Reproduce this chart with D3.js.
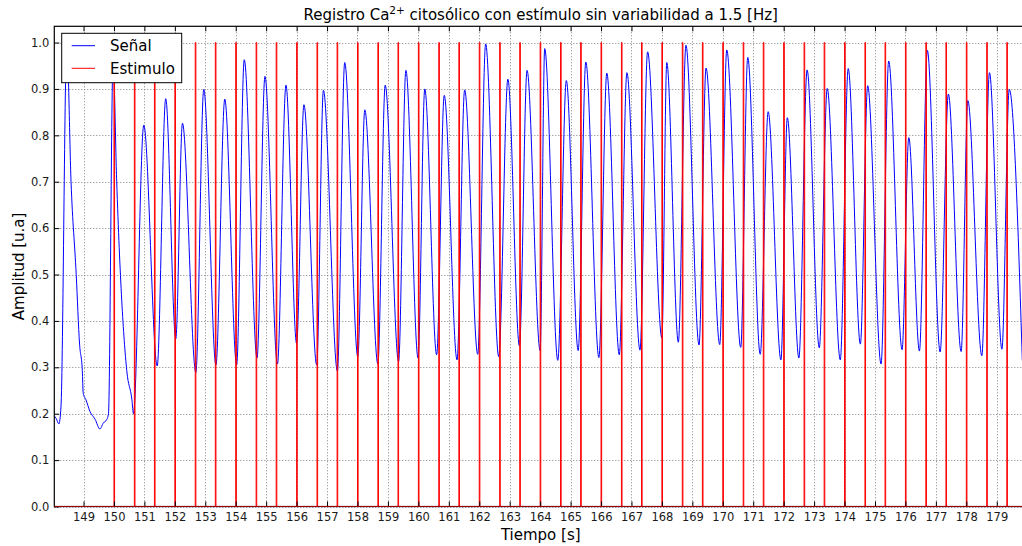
<!DOCTYPE html>
<html>
<head>
<meta charset="utf-8">
<script src="https://cdn.jsdelivr.net/npm/d3@7"></script>
<style>
  html, body { margin: 0; padding: 0; background: #ffffff; }
  svg { display: block; font-family: "DejaVu Sans", sans-serif; }
</style>
</head>
<body>
<svg id="chart" width="1022" height="546"></svg>
<script>
// Cytosolic Ca2+ trace (time in s, amplitude in a.u.)
const signalTime = [
  148.04, 148.10, 148.19, 148.26, 148.45, 148.59, 148.76, 148.87, 148.96, 148.99,
  149.08, 149.21, 149.38, 149.54, 149.65, 149.76, 149.82, 149.97, 150.09, 150.42,
  150.59, 150.64,
  150.98, 151.42, 151.70, 152.03, 152.25, 152.69, 152.95, 153.35, 153.64, 154.03,
  154.28, 154.70, 154.96, 155.37, 155.65, 156.00, 156.24, 156.66, 156.88, 157.34,
  157.58, 158.01, 158.24, 158.67, 158.91, 159.35, 159.59, 159.99, 160.21, 160.60,
  160.85, 161.27, 161.52, 161.95, 162.21, 162.64, 162.94, 163.32, 163.57, 164.00,
  164.15, 164.58, 164.86, 165.25, 165.50, 165.93, 166.19, 166.60, 166.85, 167.28,
  167.53, 168.00, 168.16, 168.54, 168.79, 169.22, 169.45, 169.90, 170.13, 170.59,
  170.82, 171.23, 171.49, 171.91, 172.12, 172.50, 172.77, 173.17, 173.43, 173.86,
  174.12, 174.52, 174.76, 175.20, 175.45, 175.89, 176.11, 176.46, 176.72, 177.14,
  177.41, 177.83, 178.05, 178.51, 178.76, 179.17, 179.41, 179.84
];
const signalValue = [
  0.195, 0.190, 0.178, 0.215, 1.000, 0.700, 0.500, 0.350, 0.293, 0.244,
  0.230, 0.205, 0.188, 0.167, 0.180, 0.187, 0.200, 0.960, 0.700, 0.293,
  0.230, 0.200,
  0.822, 0.303, 0.879, 0.361, 0.826, 0.289, 0.899, 0.305, 0.878, 0.305,
  0.963, 0.320, 0.927, 0.307, 0.908, 0.351, 0.866, 0.305, 0.897, 0.292,
  0.957, 0.323, 0.855, 0.307, 0.908, 0.312, 0.940, 0.320, 0.900, 0.327,
  0.886, 0.316, 0.898, 0.328, 0.997, 0.323, 0.921, 0.346, 0.940, 0.336,
  0.987, 0.315, 0.918, 0.336, 0.958, 0.321, 0.934, 0.327, 0.935, 0.337,
  0.980, 0.363, 0.957, 0.354, 0.994, 0.348, 0.945, 0.349, 0.984, 0.343,
  0.968, 0.328, 0.851, 0.316, 0.838, 0.320, 0.941, 0.342, 0.901, 0.316,
  0.944, 0.350, 0.907, 0.307, 0.960, 0.338, 0.795, 0.335, 0.983, 0.333,
  0.889, 0.334, 0.875, 0.325, 0.935, 0.339, 0.899, 0.315
];

// Stimulus pulse times (1.5 Hz train), pulse amplitude 1
const stimTimes = [
  150.00, 150.67, 151.33, 152.00, 152.67, 153.33, 154.00, 154.67, 155.33,
  156.00, 156.67, 157.33, 158.00, 158.67, 159.33, 160.00, 160.67, 161.33,
  162.00, 162.67, 163.33, 164.00, 164.67, 165.33, 166.00, 166.67, 167.33,
  168.00, 168.67, 169.33, 170.00, 170.67, 171.33, 172.00, 172.67, 173.33,
  174.00, 174.67, 175.33, 176.00, 176.67, 177.33, 178.00, 178.67, 179.33
];
const stimAmplitude = 1.0;
const stimWidth = 0.02;

const xTicks = d3.range(149, 180);
const yTicks = [0.0, 0.1, 0.2, 0.3, 0.4, 0.5, 0.6, 0.7, 0.8, 0.9, 1.0];

const titleMain = "Registro Ca";
const titleSup = "2+";
const titleRest = "  citosólico con estímulo sin variabilidad a 1.5 [Hz]";
const xLabel = "Tiempo [s]";
const yLabel = "Amplitud [u.a]";
const legendLabels = ["Señal", "Estimulo"];
const colors = { signal: "#0000ff", stim: "#ff0000" };

const svg = d3.select("#chart");
const pL = 54.3, pR = 1027.2, pT = 26.3, pB = 506.5;

const x = d3.scaleLinear().domain([148.04, 180.0]).range([pL, pR]);
const y = d3.scaleLinear().domain([0, 1.035]).range([pB, pT]);

svg.append("defs").append("clipPath").attr("id", "plotClip")
  .append("rect").attr("x", pL).attr("y", pT)
  .attr("width", pR - pL).attr("height", pB - pT);

// dotted grid
const grid = svg.append("g").attr("stroke", "#808080").attr("stroke-width", 1)
  .attr("stroke-dasharray", "1,2").attr("fill", "none");
grid.selectAll("line.gx").data(xTicks).join("line").attr("class", "gx")
  .attr("x1", d => Math.round(x(d)) + 0.5).attr("x2", d => Math.round(x(d)) + 0.5)
  .attr("y1", pT).attr("y2", pB);
grid.selectAll("line.gy").data(yTicks).join("line").attr("class", "gy")
  .attr("x1", pL).attr("x2", pR)
  .attr("y1", d => Math.round(y(d)) + 0.5).attr("y2", d => Math.round(y(d)) + 0.5);

const plot = svg.append("g").attr("clip-path", "url(#plotClip)");

// signal trace
const signalPts = signalTime.map((t, i) => [t, signalValue[i]]);
const line = d3.line().x(d => x(d[0])).y(d => y(d[1])).curve(d3.curveMonotoneX);
plot.append("path").datum(signalPts)
  .attr("d", line).attr("fill", "none")
  .attr("stroke", colors.signal).attr("stroke-width", 1)
  .attr("stroke-linejoin", "round");

// stimulus train: baseline at 0 with a narrow pulse at every stimulus time
const stimPts = [[148.04, 0]];
stimTimes.forEach(t => {
  stimPts.push([t, 0], [t, stimAmplitude], [t + stimWidth, stimAmplitude], [t + stimWidth, 0]);
});
stimPts.push([180.0, 0]);
plot.append("path").datum(stimPts)
  .attr("d", d3.line().x(d => x(d[0])).y(d => y(d[1])))
  .attr("fill", "none").attr("stroke", colors.stim).attr("stroke-width", 1);

// axes with inward ticks
const fontTick = 11.5;
const xAxis = svg.append("g").attr("transform", `translate(0,${pB})`)
  .call(d3.axisBottom(x).tickValues(xTicks).tickSize(-5).tickPadding(6).tickFormat(d3.format("d")));
const xAxisTop = svg.append("g").attr("transform", `translate(0,${pT})`)
  .call(d3.axisTop(x).tickValues(xTicks).tickSize(-5).tickFormat(""));
const yAxis = svg.append("g").attr("transform", `translate(${pL},0)`)
  .call(d3.axisLeft(y).tickValues(yTicks).tickSize(-5).tickPadding(5).tickFormat(d3.format(".1f")));
[xAxis, xAxisTop, yAxis].forEach(g => {
  g.select(".domain").remove();
  g.selectAll(".tick line").attr("stroke", "#000").attr("stroke-width", 1);
  g.selectAll(".tick text").attr("font-size", fontTick)
    .attr("font-family", "DejaVu Sans, sans-serif").attr("fill", "#1a1a1a");
});

// frame
svg.append("rect").attr("x", pL).attr("y", pT)
  .attr("width", pR - pL).attr("height", pB - pT)
  .attr("fill", "none").attr("stroke", "#000").attr("stroke-width", 1.2);

// stimulus baseline drawn over the bottom spine
svg.append("line").attr("x1", pL).attr("x2", pR)
  .attr("y1", y(0)).attr("y2", y(0))
  .attr("stroke", colors.stim).attr("stroke-width", 1).attr("opacity", 0.6);

// title
const title = svg.append("text").attr("x", (pL + pR) / 2).attr("y", 20)
  .attr("text-anchor", "middle").attr("font-size", 15).attr("fill", "#000");
title.append("tspan").text(titleMain);
title.append("tspan").attr("font-size", 10.5).attr("dy", -6).text(titleSup);
title.append("tspan").attr("dy", 6).text(titleRest);

// axis labels
svg.append("text").attr("x", (pL + pR) / 2).attr("y", 540)
  .attr("text-anchor", "middle").attr("font-size", 15).attr("fill", "#000").text(xLabel);
svg.append("text").attr("transform", `translate(24,${(pT + pB) / 2}) rotate(-90)`)
  .attr("text-anchor", "middle").attr("font-size", 15).attr("fill", "#000").text(yLabel);

// legend
const lg = svg.append("g");
lg.append("rect").attr("x", 61.7).attr("y", 33.3).attr("width", 120).attr("height", 49.4)
  .attr("fill", "#fff").attr("stroke", "#000").attr("stroke-width", 1);
const legendColors = [colors.signal, colors.stim];
legendLabels.forEach((label, i) => {
  const ly = 45.7 + i * 22.6;
  lg.append("line").attr("x1", 71.7).attr("x2", 95).attr("y1", ly).attr("y2", ly)
    .attr("stroke", legendColors[i]).attr("stroke-width", 1);
  lg.append("text").attr("x", 110).attr("y", ly + 5.5).attr("font-size", 15)
    .attr("fill", "#000").text(label);
});
</script>
</body>
</html>
